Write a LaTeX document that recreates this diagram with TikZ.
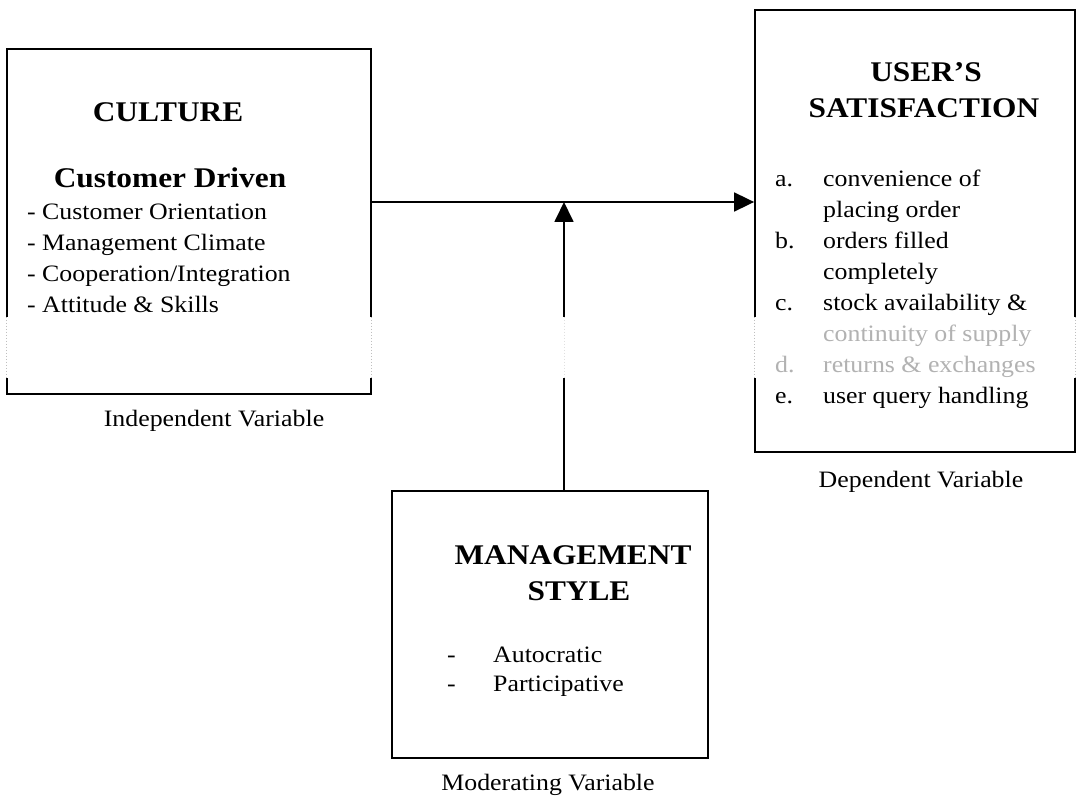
\documentclass[tikz,border=0pt]{standalone}
\usepackage{fontspec}
\setmainfont{Liberation Serif}[FakeStretch=1.1]
\usetikzlibrary{arrows.meta,calc}
\begin{document}
\begin{tikzpicture}[x=1pt,y=-1pt,
  frame/.style={draw,line width=1.8pt,inner sep=0pt,rectangle},
  title/.style={font=\fontsize{28.5}{30}\selectfont\bfseries,inner sep=0pt,anchor=base},
  body/.style={font=\fontsize{23.5}{28}\selectfont,inner sep=0pt,anchor=base west},
  caption/.style={font=\fontsize{23.5}{28}\selectfont,inner sep=0pt,anchor=base},
  faded/.style={body,text=black!30},
  link/.style={line width=1.8pt,-{Triangle[length=20pt,width=19pt]}},
  faint/.style={black!25,line width=1pt,dotted}]
\useasboundingbox (0,0) rectangle (1077,799);

% the three variable boxes
\node[frame,minimum width=364pt,minimum height=345pt] (cult) at (189,221.5) {};
\node[frame,minimum width=320pt,minimum height=442pt] (user) at (915,231) {};
\node[frame,minimum width=316pt,minimum height=267pt] (mgmt) at (550,624.5) {};

% connectors: independent -> dependent, moderator onto the link
\coordinate (j) at (564,202);
\draw[link] (cult.east |- j) -- (user.west |- j);
\draw[link] (mgmt.north -| j) -- (j);

% light strip across the page where the print is faint
\coordinate (bandtop) at (0,317);
\coordinate (bandbot) at (0,378);
\fill[white] (bandtop) rectangle (1077,378);
\draw[faint] (cult.north west |- bandtop) -- (cult.north west |- bandbot);
\draw[faint] (cult.north east |- bandtop) -- (cult.north east |- bandbot);
\draw[faint] (user.north west |- bandtop) -- (user.north west |- bandbot);
\draw[faint] (user.north east |- bandtop) -- (user.north east |- bandbot);
\draw[faint,black!12] (j |- bandtop) -- (j |- bandbot);

% CULTURE box
\node[title] (t-cult) at (168,122) {CULTURE};
\node[title] (t-drv) at (170,188) {Customer Driven};
\node[body] (c1) at (27,220) {- Customer Orientation};
\node[body] (c2) at (27,251) {- Management Climate};
\node[body] (c3) at (27,282) {- Cooperation/Integration};
\node[body] (c4) at (27,313) {- Attitude \& Skills};
\node[caption] (cap-ind) at (214,427) {Independent Variable};

% USER'S SATISFACTION box
\node[title] (t-user1) at (926,82) {USER’S};
\node[title] (t-user2) at (924,118) {SATISFACTION};
\node[body] (ia) at (775,187) {a.};
\node[body] (ta1) at (823,187) {convenience of};
\node[body] (ta2) at (823,218) {placing order};
\node[body] (ib) at (775,249) {b.};
\node[body] (tb1) at (823,249) {orders filled};
\node[body] (tb2) at (823,280) {completely};
\node[body] (ic) at (775,311) {c.};
\node[body] (tc1) at (823,311) {stock availability \&};
\node[faded] (tc2) at (823,342) {continuity of supply};
\node[faded] (id) at (775,373) {d.};
\node[faded] (td) at (823,373) {returns \& exchanges};
\node[body] (ie) at (775,404) {e.};
\node[body] (te) at (823,404) {user query handling};
\node[caption] (cap-dep) at (921,488) {Dependent Variable};

% MANAGEMENT STYLE box
\node[title] (t-mg1) at (573,565) {MANAGEMENT};
\node[title] (t-mg2) at (579,600) {STYLE};
\node[body] (d1) at (447,662) {-};
\node[body] (m1) at (493,662) {Autocratic};
\node[body] (d2) at (447,691) {-};
\node[body] (m2) at (493,691) {Participative};
\node[caption] (cap-mod) at (548,790) {Moderating Variable};
\end{tikzpicture}
\end{document}
